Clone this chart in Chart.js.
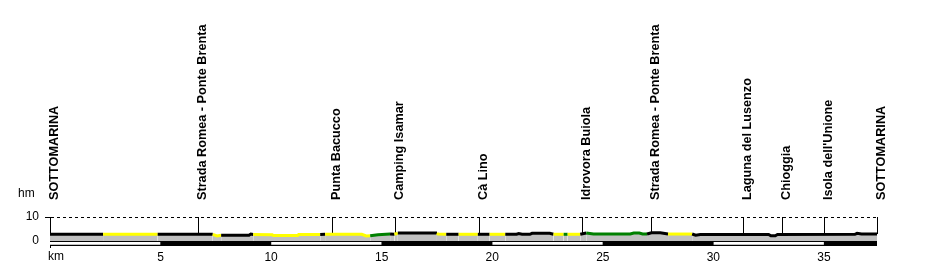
<!DOCTYPE html>
<html>
<head>
<meta charset="utf-8">
<script src="https://cdn.jsdelivr.net/npm/chart.js@4.4.1/dist/chart.umd.min.js"></script>
<style>
  html, body { margin: 0; padding: 0; background: #fff; }
  #profile { display: block; }
</style>
</head>
<body>
<canvas id="profile" width="927" height="267"></canvas>
<script>
// profilo altimetrico del percorso: distanza (km), quota, fondo stradale del tratto che segue
const profileKm = [0, 2.4, 4.87, 7.36, 7.55, 7.74, 9.0, 9.08, 9.19, 10.05, 10.1, 11.2, 11.25, 12.22, 12.44,
  14.1, 14.3, 14.48, 14.83, 15.38, 15.58, 15.73, 17.5, 17.55, 17.92, 18.48, 19.35, 19.88, 20.59,
  21.1, 21.2, 21.35, 21.7, 21.8, 22.6, 22.77, 23.23, 23.41, 23.98, 24.25, 24.58, 26.24, 26.4, 26.65,
  26.8, 27.0, 27.2, 27.6, 27.95, 29.04, 29.2, 29.41, 32.5, 32.6, 32.8, 32.9, 36.4, 36.5, 36.7, 37.4];
const profileElev = [2.8, 2.8, 2.8, 2.8, 2.1, 2.4, 2.4, 2.9, 2.7, 2.6, 2.3, 2.3, 2.7, 2.7, 2.8,
  2.8, 2.1, 2.2, 2.6, 2.9, 2.8, 3.3, 3.3, 2.9, 2.8, 2.8, 2.8, 2.8, 2.8,
  2.8, 3.1, 2.8, 2.8, 3.2, 3.2, 2.8, 2.8, 2.8, 2.8, 3.3, 2.9, 2.9, 3.3, 3.3,
  2.9, 2.9, 3.4, 3.4, 2.9, 2.9, 2.4, 2.7, 2.7, 2.2, 2.2, 2.7, 2.8, 3.2, 2.9, 2.9];
// a = asfalto (nero), c = ciclabile (giallo), g = sterrato (verde)
const profileSurface = ['a', 'c', 'a', 'c', 'c', 'a', 'a', 'a', 'c', 'c', 'c', 'c', 'c', 'a', 'c',
  'c', 'c', 'g', 'g', 'a', 'c', 'a', 'c', 'c', 'a', 'c', 'a', 'c', 'a',
  'a', 'a', 'a', 'a', 'a', 'a', 'c', 'g', 'c', 'a', 'g', 'g', 'g', 'g', 'g',
  'g', 'a', 'a', 'a', 'c', 'a', 'a', 'a', 'a', 'a', 'a', 'a', 'a', 'a', 'a', 'a'];
const surfaceColors = { a: '#000000', c: '#ffff00', g: '#008000' };

// punti notevoli
const markerKm = [0, 6.7, 12.76, 15.6, 19.4, 24.06, 27.2, 31.35, 33.1, 35.0, 37.4];
const markerNames = ['SOTTOMARINA', 'Strada Romea - Ponte Brenta', 'Punta Bacucco', 'Camping Isamar',
  'Cà Lino', 'Idrovora Buiola', 'Strada Romea - Ponte Brenta', 'Laguna del Lusenzo', 'Chioggia',
  "Isola dell'Unione", 'SOTTOMARINA'];

// assi
const xTicks = [5, 10, 15, 20, 25, 30, 35];
const yTicks = [0, 10];
const routeLength = 37.4;
const stripeStarts = [0, 10, 20, 30]; // tratti bianchi della barra chilometrica
const stripeLength = 5;

const FONT = '"Liberation Sans", Arial, sans-serif';

function elevAt(km) {
  for (let i = 1; i < profileKm.length; i++) {
    if (km <= profileKm[i]) {
      const t = (km - profileKm[i - 1]) / (profileKm[i] - profileKm[i - 1]);
      return profileElev[i - 1] + t * (profileElev[i] - profileElev[i - 1]);
    }
  }
  return profileElev[profileElev.length - 1];
}

const profilePoints = profileKm.map((km, i) => ({ x: km, y: profileElev[i] }));

const datasets = [
  {
    data: profilePoints,
    borderColor: '#000',
    borderWidth: 3,
    pointRadius: 0,
    fill: 'origin',
    backgroundColor: '#c0c0c0',
    segment: { borderColor: (ctx) => surfaceColors[profileSurface[ctx.p0DataIndex]] },
  },
];
stripeStarts.forEach((s) => {
  datasets.push({
    data: [{ x: s, y: -0.42 }, { x: Math.min(s + stripeLength, routeLength), y: -0.42 }],
    borderWidth: 0,
    pointRadius: 0,
    fill: { value: -1.6 },
    backgroundColor: '#ffffff',
  });
});
datasets.push({
  data: [{ x: 0, y: 0 }, { x: routeLength, y: 0 }],
  borderWidth: 0,
  pointRadius: 0,
  fill: { value: -2.1 },
  backgroundColor: '#000000',
});

// linee verticali e nomi dei punti notevoli
const waypointPlugin = {
  id: 'waypoints',
  beforeDatasetsDraw(chart) {
    const { ctx, scales: { x, y } } = chart;
    ctx.save();
    ctx.strokeStyle = '#000';
    ctx.lineWidth = 1;
    markerKm.forEach((km) => {
      const px = Math.round(x.getPixelForValue(km)) + 0.5;
      ctx.beginPath();
      ctx.moveTo(px, y.getPixelForValue(10));
      ctx.lineTo(px, y.getPixelForValue(elevAt(km)));
      ctx.stroke();
    });
    ctx.restore();
  },
  afterDraw(chart) {
    const { ctx, scales: { x } } = chart;
    ctx.save();
    ctx.fillStyle = '#000';
    ctx.font = 'bold 12.7px ' + FONT;
    ctx.textAlign = 'left';
    ctx.textBaseline = 'alphabetic';
    markerKm.forEach((km, i) => {
      ctx.save();
      ctx.translate(x.getPixelForValue(km) + 8, 200);
      ctx.rotate(-Math.PI / 2);
      ctx.fillText(markerNames[i], 0, 0);
      ctx.restore();
    });
    ctx.font = '12px ' + FONT;
    ctx.fillText('hm', 18, 197);
    ctx.fillText('km', 48, 260);
    ctx.restore();
  },
};

new Chart(document.getElementById('profile'), {
  type: 'line',
  data: { datasets: datasets },
  plugins: [waypointPlugin],
  options: {
    responsive: false,
    animation: false,
    devicePixelRatio: 1,
    layout: { padding: { left: 0, top: 217, right: 50, bottom: 0 } },
    plugins: { legend: { display: false }, tooltip: { enabled: false } },
    scales: {
      x: {
        type: 'linear',
        min: 0,
        max: routeLength,
        grid: { display: false, drawTicks: false },
        border: { display: false },
        afterBuildTicks: (s) => { s.ticks = xTicks.map((v) => ({ value: v })); },
        afterFit: (s) => { s.height = 20; },
        ticks: { color: '#000', padding: 3, maxRotation: 0, font: { family: FONT, size: 12 } },
      },
      y: {
        type: 'linear',
        min: -2.5,
        max: 10,
        afterBuildTicks: (s) => { s.ticks = yTicks.map((v) => ({ value: v })); },
        afterFit: (s) => { s.width = 50; },
        grid: {
          color: (c) => (c.tick && c.tick.value === 10 ? '#000' : 'rgba(0,0,0,0)'),
          tickColor: (c) => (c.tick && c.tick.value === 10 ? '#000' : 'rgba(0,0,0,0)'),
          tickLength: 5,
          lineWidth: 1,
        },
        border: { display: true, color: '#000', width: 1, dash: [3, 3] },
        ticks: { color: '#000', padding: 6, font: { family: FONT, size: 12 } },
      },
    },
  },
});
</script>
</body>
</html>
